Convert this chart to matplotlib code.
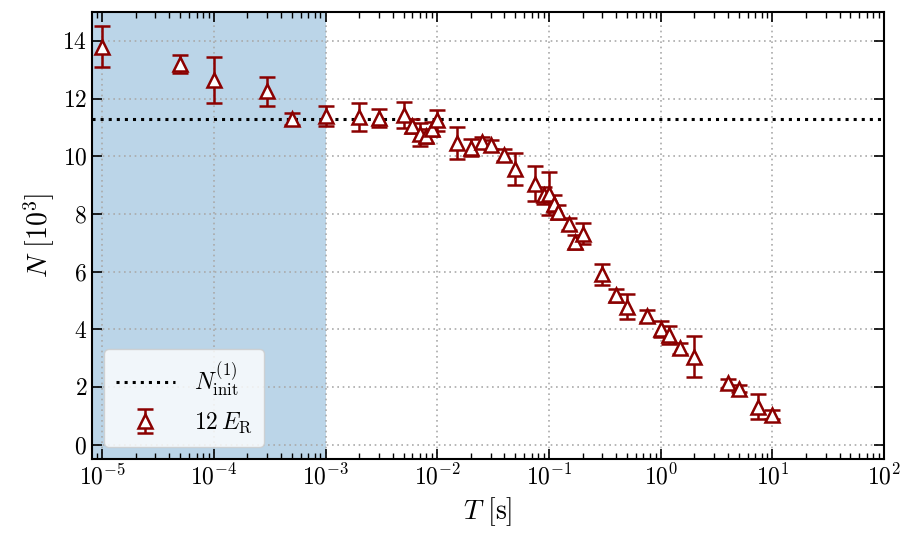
import numpy as np
import matplotlib
matplotlib.use("Agg")
import matplotlib.pyplot as plt

plt.rcParams['font.family'] = 'serif'
plt.rcParams['font.serif'] = ['cmr10', 'DejaVu Serif']
plt.rcParams['mathtext.fontset'] = 'cm'
plt.rcParams['axes.formatter.use_mathtext'] = True

T = [1e-5, 5e-5, 1e-4, 3e-4, 5e-4, 1e-3, 2e-3, 3e-3, 5e-3, 6e-3, 7e-3, 8e-3, 9e-3,
     1e-2, 1.5e-2, 2e-2, 2.5e-2, 3e-2, 4e-2, 5e-2, 7.5e-2, 9e-2, 0.1, 0.11, 0.12,
     0.15, 0.17, 0.2, 0.3, 0.4, 0.5, 0.75, 1.0, 1.2, 1.5, 2.0, 4.0, 5.0, 7.5, 10.0]
N = [13.8, 13.2, 12.65, 12.25, 11.3, 11.4, 11.37, 11.33, 11.42, 11.06, 10.77, 10.7, 10.95,
     11.25, 10.45, 10.3, 10.48, 10.4, 10.05, 9.55, 9.05, 8.65, 8.7, 8.35, 8.07,
     7.65, 7.03, 7.31, 5.9, 5.18, 4.78, 4.46, 4.0, 3.8, 3.34, 3.05, 2.12, 1.94, 1.32, 1.04]
N_err = [0.72, 0.3, 0.8, 0.5, 0.2, 0.35, 0.49, 0.3, 0.45, 0.24, 0.4, 0.23, 0.25,
         0.36, 0.55, 0.3, 0.2, 0.15, 0.2, 0.55, 0.6, 0.3, 0.74, 0.3, 0.25,
         0.2, 0.24, 0.37, 0.37, 0.23, 0.43, 0.2, 0.28, 0.3, 0.2, 0.72, 0.15, 0.13, 0.43, 0.15]
N_init = 11.3
shade_range = [1e-5 * 10**-0.1, 1e-3]
xticks = [1e-5, 1e-4, 1e-3, 1e-2, 1e-1, 1e0, 1e1, 1e2]
yticks = [0, 2, 4, 6, 8, 10, 12, 14]

fig = plt.figure(figsize=(9.03, 5.34), dpi=100)
ax = fig.add_axes([0.102, 0.1404, 0.877, 0.837])

ax.axvspan(shade_range[0], shade_range[1], color='C0', alpha=0.3, lw=0, zorder=0)
ax.axhline(N_init, color='black', ls=':', lw=2.2, label=r'$N_{\rm init}^{(1)}$', zorder=2)
ax.errorbar(T, N, yerr=N_err, fmt='^', color='darkred', mfc='white', mec='darkred',
            ms=10, mew=1.8, elinewidth=1.8, capsize=5.5, capthick=1.8,
            label=r'$12\,E_{\rm R}$', zorder=3)

ax.set_xscale('log')
ax.set_xlim(10**-5.09, 1e2)
ax.set_ylim(-0.5, 15)
ax.set_xticks(xticks)
ax.set_yticks(yticks)
ax.grid(True, which='major', ls=(0, (1, 2.2)), color='#aaaaaa', lw=1.2)
ax.tick_params(which='both', direction='in', top=True, right=True, labelsize=17)
ax.tick_params(which='major', length=7, width=1.2)
ax.tick_params(which='minor', length=4, width=1.0)
for s in ax.spines.values():
    s.set_linewidth(1.5)

ax.set_xlabel(r'$T\ [\mathrm{s}]$', fontsize=20)
ax.set_ylabel(r'$N\ [10^3]$', fontsize=20)

leg = ax.legend(loc='lower left', fontsize=17, framealpha=0.8, fancybox=True,
                handlelength=2.5, borderpad=0.5, labelspacing=0.5)

fig.savefig('out.png', dpi=100)
